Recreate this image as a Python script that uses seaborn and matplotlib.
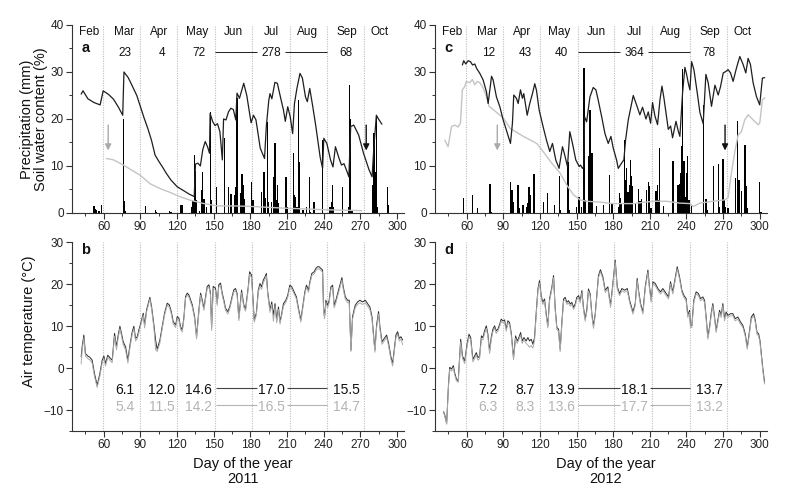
import seaborn as sns
from matplotlib import pyplot as plt
from matplotlib.ticker import MultipleLocator

# ---------------- data (x = day of the year) ----------------
# 2011 daily precipitation (mm)
rain_days_2011 = [52, 53, 54, 56, 58, 76, 77, 78, 94, 102,
                  103, 114, 115, 123, 124, 132, 133, 134, 135, 136,
                  138, 140, 141, 142, 144, 147, 148, 152, 159, 162,
                  164, 167, 168, 169, 172, 173, 174, 175, 181, 182,
                  189, 191, 192, 194, 195, 197, 199, 200, 201, 202,
                  203, 209, 210, 215, 216, 217, 218, 219, 220, 223,
                  226, 228, 229, 232, 239, 245, 246, 247, 248, 255,
                  260, 261, 262, 263, 280, 281, 282, 283, 284, 292,
                  293]
rain_mm_2011 = [1.5, 0.8, 0.6, 0.5, 1.7, 20.0, 2.5, 0.5, 1.5, 0.6,
                0.3, 0.4, 0.3, 1.8, 1.8, 1.3, 2.5, 12.4, 9.0, 2.8,
                0.5, 4.8, 8.7, 3.0, 1.3, 21.4, 2.8, 5.5, 16.0, 5.5,
                4.0, 3.8, 5.6, 24.5, 4.2, 8.4, 6.0, 3.0, 6.7, 2.8,
                4.5, 8.8, 3.1, 19.4, 2.4, 2.4, 7.7, 14.8, 2.8, 6.0,
                2.1, 7.7, 1.3, 12.7, 3.8, 3.5, 1.3, 24.0, 10.9, 0.6,
                1.3, 7.7, 0.3, 2.4, 15.5, 1.3, 2.4, 6.0, 1.3, 5.6,
                1.3, 27.2, 20.1, 0.6, 6.0, 17.0, 8.8, 20.8, 1.3, 5.6,
                1.7]

# 2011 soil water content (%), black (upper) and grey (deeper) curve
swc_days_2011 = [41.5, 43, 47, 52, 57, 59.5, 64, 68, 72, 75.5,
                 76.5, 80, 83, 87, 90, 93, 96, 99, 102, 105,
                 108, 111, 115, 120, 125, 130, 134, 135, 137, 139,
                 141, 143, 145, 146.5, 147, 149, 151, 153, 155, 157,
                 158, 160, 162, 164, 166, 168, 169, 171, 174.5, 177,
                 180.5, 182.5, 184.5, 188, 191.5, 193, 195, 196, 197.5, 200,
                 202, 204.5, 207, 208.5, 210.5, 212.5, 214.5, 216, 218, 220.5,
                 222.5, 225, 226.5, 228.5, 231, 233.5, 237, 239, 240, 242.5,
                 245.5, 247.5, 249.5, 252.5, 254.5, 256.5, 259, 260.5, 262, 264.5,
                 268.5, 272.5, 277, 279.5, 281, 283, 284.5, 287.5]
swc_top_2011 = [25.3, 26.0, 24.3, 23.5, 23.0, 26.0, 25.2, 24.2, 22.5, 20.8,
                30.0, 28.8, 27.2, 25.0, 22.6, 20.2, 18.0, 15.5, 12.3, 11.0,
                9.8, 8.5, 7.0, 5.6, 4.8, 4.0, 3.5, 10.4, 10.6, 10.0,
                13.5, 15.2, 14.0, 12.7, 21.2, 19.5, 18.6, 19.0, 17.3, 11.3,
                20.0, 19.8, 21.5, 22.3, 22.0, 19.8, 25.5, 24.4, 27.6, 25.0,
                19.2, 20.8, 19.8, 13.8, 11.6, 18.5, 24.0, 25.4, 24.3, 27.8,
                27.6, 24.7, 21.9, 19.5, 22.6, 20.5, 16.9, 23.3, 26.5, 29.7,
                28.7, 24.7, 23.7, 26.5, 22.6, 18.4, 11.9, 9.5, 15.9, 14.8,
                11.3, 9.8, 14.1, 11.6, 10.2, 10.5, 8.8, 7.7, 18.4, 18.7,
                16.6, 12.7, 9.2, 7.7, 14.1, 20.8, 20.1, 18.9]
swc_low_days_2011 = [62, 68, 76, 83, 90, 98, 106, 114, 123, 131,
                     142, 153, 168, 180, 195, 210, 222, 240, 255, 271]
swc_low_2011 = [11.6, 11.3, 10.2, 9.1, 8.0, 6.2, 5.2, 4.4, 3.4, 2.7,
                2.0, 1.5, 1.5, 1.4, 1.2, 1.0, 0.9, 0.7, 0.6, 0.5]

# 2012 daily precipitation (mm)
rain_days_2012 = [57, 65, 69, 79, 80, 96, 97, 98, 102, 103,
                  106, 109, 110, 111, 112, 115, 123, 126, 132, 136,
                  137, 143, 144, 150, 152, 154, 156, 157, 160, 161,
                  162, 163, 166, 172, 177, 179, 184, 185, 186, 187,
                  189, 190, 191, 192, 193, 194, 195, 196, 198, 201,
                  202, 203, 207, 209, 210, 211, 215, 216, 217, 218,
                  221, 229, 233, 234, 235, 236, 237, 238, 239, 240,
                  241, 242, 244, 254, 256, 257, 262, 266, 267, 270,
                  271, 272, 274, 280, 282, 283, 285, 288, 289, 290,
                  300, 301]
rain_mm_2012 = [3.1, 3.8, 1.0, 6.2, 0.3, 6.7, 4.9, 2.3, 6.0, 1.0,
                1.7, 1.3, 2.1, 5.6, 3.8, 8.2, 2.4, 4.3, 1.7, 7.9,
                0.6, 10.9, 0.6, 1.3, 3.5, 1.3, 30.8, 2.8, 12.1, 21.9,
                12.8, 12.8, 1.4, 1.8, 8.0, 2.1, 1.3, 4.2, 3.1, 2.1,
                15.5, 7.0, 9.6, 4.5, 6.0, 11.3, 7.8, 5.7, 2.1, 5.2,
                2.5, 3.0, 4.8, 6.7, 5.7, 1.0, 4.6, 6.0, 2.8, 13.8,
                1.4, 11.0, 6.0, 6.2, 8.5, 14.2, 30.6, 11.0, 3.5, 8.5,
                12.1, 2.8, 1.4, 23.0, 3.0, 0.6, 10.1, 10.4, 1.3, 11.5,
                2.8, 1.3, 1.0, 7.4, 19.5, 7.1, 4.6, 14.5, 5.7, 1.0,
                6.7, 0.3]

# 2012 soil water content (%)
swc_days_2012 = [56.4, 57.5, 59.2, 61.1, 63, 64.7, 66.6, 68, 70.7, 73.4,
                 76.1, 77.5, 80.3, 81.6, 84.3, 87.1, 89.8, 92.5, 95.8, 97.4,
                 98.5, 100.7, 102.1, 104, 105.6, 106.7, 109.5, 111.6, 113.8, 115.7,
                 117.1, 119.3, 122.5, 125.3, 128, 130.2, 132.9, 135.6, 138.4, 140.3,
                 142.5, 144.4, 146.6, 149.3, 152.1, 153.2, 154.8, 155.9, 156.5, 158.2,
                 160.9, 163.6, 165.8, 167.7, 170.5, 173.2, 175.9, 178.1, 180, 182.7,
                 184.1, 186.8, 188.7, 190.1, 192.3, 196.4, 199.1, 201.8, 204, 206.8,
                 208.7, 210.6, 212.2, 214.1, 216.3, 218.3, 219.9, 221.5, 225.1, 227,
                 228.6, 231.4, 233.3, 234.6, 236.8, 238.7, 240.1, 241.4, 242.8, 244.2,
                 246.1, 248.8, 251, 253.7, 255.9, 257.8, 260.5, 263.3, 266, 267.9,
                 270.1, 272.2, 274.1, 276.1, 278.2, 281, 283.7, 286.4, 288.6, 290.5,
                 292.4, 294.6, 297.3, 300, 302.2, 304.1]
swc_top_2012 = [31.5, 32.4, 31.7, 32.4, 32.2, 31.5, 31.7, 30.8, 29.7, 28.3,
                25.8, 23.3, 29.1, 28.3, 24.7, 22.6, 19.8, 17.6, 14.8, 19.1,
                25.1, 24.4, 23.3, 26.2, 24.4, 25.4, 20.8, 23.3, 25.4, 27.5,
                26.1, 21.9, 18.4, 15.5, 13.1, 14.8, 11.3, 9.5, 14.1, 12.3,
                9.9, 17.3, 14.8, 11.3, 9.9, 10.2, 9.5, 9.9, 20.5, 19.4,
                24.7, 26.7, 26.2, 24.0, 20.5, 16.9, 14.8, 16.3, 13.8, 11.3,
                9.5, 10.6, 11.3, 15.5, 19.8, 25.0, 23.0, 20.9, 22.5, 20.0,
                21.5, 19.1, 23.5, 20.7, 18.8, 24.1, 27.0, 24.5, 17.8, 18.5,
                16.0, 19.5, 17.4, 16.3, 25.6, 31.0, 29.5, 27.7, 26.2, 32.2,
                30.5, 25.6, 21.4, 19.0, 29.5, 27.7, 22.7, 27.2, 25.1, 26.9,
                29.8, 30.1, 30.5, 29.8, 28.0, 30.9, 33.3, 31.6, 29.8, 32.9,
                31.6, 27.7, 24.8, 23.0, 28.7, 28.8]
swc_low_days_2012 = [42, 44.7, 47.5, 50.2, 52.9, 54.8, 56.4, 58.3, 59.7, 62.4,
                     64.6, 66.6, 68.5, 70.7, 73.4, 76.1, 78.3, 84, 90, 95.5,
                     106.4, 117.3, 122.8, 129.6, 136.4, 141.8, 147.3, 152.8, 158.2, 169.1,
                     180, 196.4, 212.7, 223.6, 234.6, 242.8, 245.5, 251, 261.8, 271.4,
                     274.1, 276.8, 279.6, 282.3, 285, 287.7, 290.5, 294.6, 298.7, 300,
                     302.2, 304.1]
swc_low_2012 = [15.5, 14.1, 18.4, 18.7, 18.3, 19.1, 26.2, 26.9, 28.0, 27.7,
                28.4, 27.3, 28.0, 27.7, 26.6, 24.8, 22.7, 21.5, 20.2, 18.0,
                16.3, 14.8, 13.0, 10.6, 8.5, 6.0, 3.9, 2.8, 2.5, 2.3,
                2.0, 2.0, 2.5, 2.5, 2.1, 2.0, 1.4, 2.1, 2.5, 2.8,
                3.2, 8.5, 13.0, 16.6, 17.3, 19.8, 20.9, 19.8, 18.8, 19.1,
                24.1, 24.5]

# 2011 air temperature (degC), black and grey curve
temp_days_2011 = [41.5, 42.3, 43.7, 45.0, 46.9, 48.6, 50.5, 52.4, 54.6, 56.8,
                  58.7, 60.1, 61.4, 63.3, 65.5, 66.9, 68.8, 70.4, 71.8, 73.2,
                  74.2, 75.9, 77.8, 79.7, 81.4, 83.3, 84.6, 86.0, 87.4, 88.7,
                  90.6, 92.3, 93.4, 95.0, 96.4, 97.7, 99.1, 101.0, 102.4, 103.7,
                  105.9, 107.8, 109.7, 111.9, 113.6, 115.2, 116.8, 118.8, 120.1, 121.5,
                  122.8, 124.2, 125.6, 126.9, 128.3, 129.6, 131.0, 132.4, 134.3, 135.9,
                  137.8, 139.2, 140.5, 141.9, 143.3, 144.6, 146.0, 147.3, 148.2, 149.5,
                  151.4, 152.8, 154.1, 155.5, 156.9, 158.2, 159.6, 161.5, 163.1, 165.0,
                  166.4, 167.8, 169.1, 170.5, 172.7, 174.6, 176.0, 178.2, 179.3, 180.9,
                  182.0, 183.1, 184.8, 186.4, 187.8, 189.1, 190.5, 191.9, 193.0, 194.1,
                  196.0, 197.4, 198.8, 200.1, 201.5, 202.9, 204.2, 205.6, 207.0, 208.9,
                  210.5, 212.2, 213.8, 215.7, 217.6, 219.3, 221.2, 222.5, 224.5, 225.8,
                  227.5, 228.6, 230.2, 232.1, 233.5, 234.8, 236.2, 237.6, 239.0, 239.8,
                  240.6, 241.7, 243.1, 244.4, 245.8, 247.2, 248.5, 249.9, 251.3, 253.2,
                  254.8, 255.9, 257.6, 259.5, 260.8, 262.2, 263.5, 265.7, 267.6, 269.5,
                  271.7, 273.9, 275.8, 277.7, 279.4, 281.8, 283.2, 284.8, 285.9, 287.6,
                  289.5, 291.4, 293.0, 294.9, 296.3, 297.6, 299.0, 300.4, 301.7, 303.1,
                  304.5]
temp_a_2011 = [2.7, 5.1, 7.9, 3.5, 2.9, 2.6, 1.9, -1.3, -4.1, -1.3,
               1.9, 2.9, 1.1, 3.1, 2.3, 1.9, 8.3, 5.1, 7.9, 10.0,
               8.7, 6.3, 5.1, 1.9, 5.5, 8.7, 10.0, 7.1, 7.5, 9.1,
               11.1, 13.1, 10.3, 13.9, 15.5, 16.9, 14.7, 10.3, 6.7, 4.5,
               6.7, 9.9, 13.1, 15.5, 15.1, 13.5, 11.1, 10.3, 12.3, 11.9,
               9.9, 9.1, 12.3, 17.1, 17.9, 17.5, 16.3, 15.1, 12.3, 7.5,
               13.9, 17.9, 16.3, 14.3, 17.1, 19.5, 19.9, 17.9, 9.5, 19.5,
               19.1, 15.5, 19.9, 20.3, 17.9, 16.3, 14.3, 13.5, 14.7, 17.1,
               18.7, 19.0, 17.8, 11.9, 18.6, 15.0, 14.2, 19.4, 23.0, 22.2,
               17.0, 11.5, 13.1, 18.6, 20.2, 19.4, 21.0, 21.8, 22.6, 18.2,
               13.9, 15.8, 12.7, 15.4, 11.5, 14.6, 11.1, 13.1, 15.4, 16.2,
               17.4, 19.8, 19.4, 18.2, 17.0, 14.2, 11.5, 14.2, 18.2, 19.8,
               18.6, 20.6, 22.6, 23.0, 23.8, 24.2, 24.2, 23.8, 23.4, 14.2,
               12.3, 16.2, 15.0, 16.2, 19.4, 19.8, 15.0, 16.2, 17.8, 19.8,
               21.6, 19.4, 17.0, 16.2, 16.2, 4.3, 12.3, 15.0, 15.8, 16.2,
               15.8, 16.2, 15.4, 14.6, 12.3, 4.3, 10.3, 13.5, 9.9, 6.3,
               7.1, 7.9, 5.9, 2.7, 1.1, 4.3, 7.9, 8.7, 7.1, 7.5,
               6.7]
temp_b_2011 = [1.0, 4.3, 7.2, 2.9, 2.3, 2.0, 1.2, -2.0, -4.6, -1.9,
               1.3, 2.4, 0.5, 2.6, 1.7, 1.3, 7.6, 4.4, 7.3, 9.4,
               8.1, 5.6, 4.4, 1.2, 4.9, 8.1, 9.4, 6.5, 7.0, 8.5,
               10.6, 12.6, 9.6, 13.4, 15.0, 16.5, 14.1, 9.6, 4.4, 4.0,
               6.0, 9.4, 12.6, 15.0, 14.6, 13.0, 10.5, 9.7, 11.8, 11.4,
               9.3, 8.6, 11.8, 16.7, 17.4, 17.0, 15.8, 14.6, 11.8, 7.0,
               13.3, 17.4, 15.8, 13.8, 16.6, 19.0, 19.4, 17.4, 9.0, 19.0,
               18.6, 15.0, 19.4, 19.8, 17.4, 15.8, 13.8, 12.9, 14.2, 16.6,
               18.2, 18.5, 17.3, 11.3, 18.0, 14.5, 13.6, 18.9, 22.4, 21.6,
               16.5, 11.0, 12.6, 18.1, 19.6, 18.8, 20.4, 21.2, 22.0, 17.6,
               13.3, 15.2, 11.2, 14.8, 10.8, 14.0, 10.5, 12.6, 14.8, 15.7,
               16.9, 19.3, 18.9, 17.7, 16.5, 13.7, 11.0, 13.7, 17.7, 19.3,
               18.1, 20.1, 22.1, 22.5, 23.3, 23.7, 23.7, 23.3, 22.9, 13.6,
               11.8, 15.7, 14.4, 15.6, 18.9, 19.2, 14.4, 15.6, 17.2, 19.2,
               21.0, 18.8, 16.4, 15.6, 15.6, 4.0, 11.7, 14.4, 15.2, 15.6,
               15.2, 15.6, 14.8, 14.0, 11.7, 3.8, 9.7, 12.9, 9.3, 5.7,
               6.5, 7.3, 5.3, 2.1, 0.5, 3.7, 7.3, 8.1, 6.5, 6.9,
               5.6]

# 2012 air temperature (degC)
temp_days_2012 = [41, 42, 43.5, 45, 46, 47.5, 49, 50, 51.5, 53,
                  55, 56.5, 58.3, 60.2, 61.8, 63.2, 65, 66.4, 67.8, 69.2,
                  70.5, 72, 73.2, 74.6, 76, 77.3, 78.7, 80, 81.4, 82.8,
                  84.1, 85.5, 87, 88.2, 89.6, 91, 92.3, 93.7, 95, 96.4,
                  98.3, 100, 101.3, 102.7, 104.1, 105.4, 106.8, 108.7, 110.1, 111.4,
                  112.8, 114.2, 115.5, 116.9, 118.3, 119.6, 121, 122.3, 123.7, 125.1,
                  126.4, 127.8, 129.7, 131.1, 132.4, 133.8, 135.2, 136.5, 137.9, 139.3,
                  140.6, 142, 143.4, 144.7, 146.1, 147.5, 148.8, 150.2, 151.6, 152.9,
                  154.3, 155.6, 157, 158.4, 159.7, 161.1, 162.5, 163.8, 165.2, 166.6,
                  167.9, 169.5, 171.5, 173.4, 175.6, 177.8, 179.7, 181.6, 183.3, 185.2,
                  187.1, 189.3, 191.5, 193.4, 196.1, 198, 199.6, 200.7, 202.4, 204.3,
                  206.2, 208.4, 209.7, 211.1, 212.5, 214.4, 216.6, 218.7, 220.6, 223.4,
                  225.3, 226.9, 228.8, 230.7, 232.4, 234.3, 236.2, 237.8, 239.7, 241.1,
                  242.5, 243.3, 244.4, 246, 247.9, 249.8, 251.5, 253.4, 254.8, 256.1,
                  257.5, 258.9, 260.2, 261.6, 263, 264.3, 265.7, 267.1, 268.4, 269.8,
                  271.2, 272.5, 273.9, 276.1, 278, 279.9, 282.1, 284.3, 286.2, 288.1,
                  289.8, 291.7, 293.1, 295, 296.4, 297.7, 299.1, 300.2, 301.3, 302.6,
                  304]
temp_a_2012 = [-10.4, -11.2, -13.2, -4.0, 0.2, -0.2, 0.6, -1.0, -2.6, -3.0,
               6.9, 2.9, 1.7, 5.7, 8.1, 7.3, 2.1, 2.9, 3.7, 2.5,
               2.9, 7.7, 7.3, 8.9, 10.1, 8.1, 4.1, 7.3, 9.3, 10.1,
               8.9, 9.3, 10.5, 11.7, 11.3, 11.5, 9.3, 11.3, 10.9, 8.5,
               2.5, 7.7, 6.5, 7.3, 8.5, 6.5, 7.3, 6.5, 7.3, 6.5,
               6.9, 5.7, 7.3, 13.3, 18.9, 20.9, 17.3, 15.7, 16.5, 12.9,
               10.1, 16.5, 19.3, 22.1, 14.5, 9.7, 9.3, 4.5, 10.9, 16.5,
               16.9, 15.7, 16.1, 15.3, 15.7, 14.5, 15.3, 16.9, 17.3, 16.1,
               18.5, 14.5, 11.7, 14.1, 18.9, 17.7, 12.9, 10.1, 12.9, 17.7,
               22.1, 23.5, 21.8, 18.6, 19.4, 15.0, 20.2, 25.8, 19.4, 17.8,
               19.0, 18.6, 19.0, 16.2, 13.4, 15.4, 21.4, 18.6, 15.4, 13.4,
               19.4, 23.4, 19.4, 16.2, 20.6, 20.2, 19.0, 18.2, 19.0, 17.8,
               17.0, 20.6, 18.2, 21.4, 24.2, 21.8, 18.6, 17.4, 16.6, 12.6,
               13.8, 10.2, 10.2, 16.2, 18.2, 17.8, 16.6, 17.0, 16.2, 12.2,
               7.4, 9.8, 13.0, 15.4, 12.2, 9.0, 11.4, 13.8, 12.6, 15.4,
               11.8, 13.4, 12.6, 13.0, 13.0, 11.8, 12.2, 11.0, 10.2, 8.2,
               5.0, 9.0, 12.2, 13.0, 11.4, 8.6, 8.2, 6.6, 3.4, -0.2,
               -3.4]
temp_b_2012 = [-10.6, -11.5, -13.4, -4.4, -0.3, -0.7, 0.1, -1.5, -3.0, -3.4,
               6.2, 2.3, 1.1, 5.1, 7.5, 6.7, 1.5, 2.3, 3.1, 1.9,
               2.3, 7.1, 6.7, 8.3, 9.5, 7.5, 3.5, 6.7, 8.7, 9.6,
               8.3, 8.8, 10.0, 11.2, 10.8, 11.0, 8.8, 10.8, 10.4, 8.0,
               2.0, 7.1, 5.9, 6.8, 7.9, 5.9, 6.7, 5.9, 5.5, 5.0,
               5.4, 4.8, 6.5, 12.8, 18.4, 20.3, 16.8, 15.2, 16.0, 12.4,
               9.6, 16.0, 18.8, 21.6, 14.0, 9.2, 8.8, 3.9, 10.4, 16.0,
               16.4, 15.2, 15.6, 14.8, 15.2, 14.0, 14.8, 16.4, 16.8, 15.6,
               18.0, 14.0, 11.2, 13.6, 18.4, 17.2, 12.4, 9.5, 12.4, 17.2,
               21.6, 23.0, 21.3, 18.1, 18.9, 14.5, 19.7, 25.3, 18.9, 17.3,
               18.5, 18.1, 18.5, 15.7, 12.9, 14.9, 20.9, 18.1, 14.9, 12.9,
               18.9, 22.9, 18.9, 15.7, 20.1, 19.7, 18.5, 17.7, 18.5, 17.3,
               16.5, 20.1, 17.7, 20.9, 23.7, 21.3, 18.1, 16.9, 16.1, 12.1,
               13.3, 9.7, 9.7, 15.7, 17.7, 17.3, 16.1, 16.5, 15.7, 11.7,
               6.9, 9.3, 12.5, 14.9, 11.7, 8.5, 10.9, 13.3, 12.1, 14.9,
               11.3, 12.9, 12.1, 12.5, 12.5, 11.3, 11.7, 10.5, 9.7, 7.7,
               4.5, 8.5, 11.7, 12.5, 10.9, 8.1, 7.7, 6.1, 2.9, -0.7,
               -3.8]

# labels
months = ['Feb', 'Mar', 'Apr', 'May', 'Jun', 'Jul', 'Aug', 'Sep', 'Oct']
month_ends = [59, 90, 120, 151, 181, 212, 243, 273]
rain_totals_2011 = ['23', '4', '72', '278', '68']
rain_totals_2012 = ['12', '43', '40', '364', '78']
tmean_a_2011 = ['6.1', '12.0', '14.6', '17.0', '15.5']
tmean_b_2011 = ['5.4', '11.5', '14.2', '16.5', '14.7']
tmean_a_2012 = ['7.2', '8.7', '13.9', '18.1', '13.7']
tmean_b_2012 = ['6.3', '8.3', '13.6', '17.7', '13.2']

# ---------------- drawing ----------------
sns.set_theme(style='ticks')
plt.rcParams['font.family'] = ['Liberation Sans', 'DejaVu Sans']

BLACK = '#1e1e1e'
GREY = '#c4c4c4'
GREY_TXT = '#b4b4b4'
month_mid = [48, 77, 105, 136, 166, 197, 227, 259, 286]
sum_x = [77.5, 107.5, 137.5, 197, 258.5]


def style_axis(ax, ylim, yticks):
    ax.set_xlim(34, 306)
    ax.set_ylim(*ylim)
    ax.set_xticks(range(60, 301, 30))
    ax.xaxis.set_minor_locator(MultipleLocator(15))
    ax.set_yticks(yticks)
    ax.yaxis.set_minor_locator(MultipleLocator(5))
    ax.tick_params(which='major', direction='out', length=4, width=0.8,
                   labelsize=8.5, colors='#333', labelcolor='#222', pad=2)
    ax.tick_params(which='minor', direction='out', length=2.5, width=0.7, colors='#333')
    for s in ['top', 'right']:
        ax.spines[s].set_visible(False)
    for s in ['left', 'bottom']:
        ax.spines[s].set_color('#333')
        ax.spines[s].set_linewidth(0.8)
    for d in month_ends:
        ax.axvline(d, color='#bdbdbd', lw=0.8, ls=(0, (1, 1.2)), zorder=0)
    ax.set_xlabel('')
    ax.set_ylabel('')


def soil_panel(ax, rain_d, rain_v, top_d, top_v, low_d, low_v, totals, letter, arrows):
    sns.barplot(x=rain_d, y=rain_v, native_scale=True, orient='x', color='black',
                width=1.0, linewidth=0, errorbar=None, saturation=1, ax=ax)
    sns.lineplot(x=low_d, y=low_v, estimator=None, sort=False, color=GREY, lw=1.0, ax=ax)
    sns.lineplot(x=top_d, y=top_v, estimator=None, sort=False, color=BLACK, lw=0.9, ax=ax)
    style_axis(ax, (0, 40), range(0, 41, 10))
    for name, x in zip(months, month_mid):
        ax.text(x, 38.5, name, ha='center', va='center', fontsize=8.5, color='#111')
    for txt, x in zip(totals, sum_x):
        ax.text(x, 34.0, txt, ha='center', va='center', fontsize=8.5, color='#111')
    ax.hlines([34.3, 34.3], [151, 208.5], [185.5, 243], color=BLACK, lw=0.7)
    ax.text(45, 35.2, letter, ha='center', va='center', fontsize=10.5,
            fontweight='bold', color='#111')
    for x, col in arrows:
        ax.annotate('', xy=(x, 13.3), xytext=(x, 18.7),
                    arrowprops=dict(arrowstyle='-|>', color=col, lw=1.0,
                                    mutation_scale=9, shrinkA=0, shrinkB=0))


def temp_panel(ax, days, ta, tb, means_a, means_b, letter):
    sns.lineplot(x=days, y=ta, estimator=None, sort=False, color='#2a2a2a', lw=0.7, ax=ax)
    sns.lineplot(x=days, y=tb, estimator=None, sort=False, color='#ababab', lw=0.7, ax=ax)
    style_axis(ax, (-15, 30), [-10, 0, 10, 20, 30])
    for txt, x in zip(means_a, sum_x):
        ax.text(x, -5.1, txt, ha='center', va='center', fontsize=10, color='#111')
    for txt, x in zip(means_b, sum_x):
        ax.text(x, -9.2, txt, ha='center', va='center', fontsize=10, color=GREY_TXT)
    ax.hlines([-4.85, -4.85], [151.5, 210], [185.5, 243], color='#444', lw=0.8)
    ax.hlines([-8.9, -8.9], [151.5, 210], [185.5, 243], color=GREY_TXT, lw=0.8)
    ax.text(45.5, 28.3, letter, ha='center', va='center', fontsize=10.5,
            fontweight='bold', color='#111')


fig = plt.figure(figsize=(8, 4.98), dpi=100)
ax_a = fig.add_axes([0.0900, 0.5723, 0.4156, 0.3775])
ax_c = fig.add_axes([0.5438, 0.5723, 0.4150, 0.3775])
ax_b = fig.add_axes([0.0900, 0.1345, 0.4156, 0.3787])
ax_d = fig.add_axes([0.5438, 0.1345, 0.4150, 0.3787])

soil_panel(ax_a, rain_days_2011, rain_mm_2011, swc_days_2011, swc_top_2011,
           swc_low_days_2011, swc_low_2011, rain_totals_2011, 'a',
           [(63.6, '#aaaaaa'), (274.7, '#111111')])
soil_panel(ax_c, rain_days_2012, rain_mm_2012, swc_days_2012, swc_top_2012,
           swc_low_days_2012, swc_low_2012, rain_totals_2012, 'c',
           [(85.0, '#aaaaaa'), (271.6, '#111111')])
temp_panel(ax_b, temp_days_2011, temp_a_2011, temp_b_2011, tmean_a_2011, tmean_b_2011, 'b')
temp_panel(ax_d, temp_days_2012, temp_a_2012, temp_b_2012, tmean_a_2012, tmean_b_2012, 'd')

ax_a.set_ylabel('Precipitation (mm)\nSoil water content (%)', fontsize=10.5,
                color='#111', linespacing=1.0)
ax_a.yaxis.set_label_coords(-0.072, 0.5)
ax_b.set_ylabel('Air temperature (°C)', fontsize=10.5, color='#111')
ax_b.yaxis.set_label_coords(-0.108, 0.58)
for ax, year in [(ax_b, '2011'), (ax_d, '2012')]:
    ax.set_xlabel('Day of the year\n' + year, fontsize=10.5, color='#111', linespacing=1.05)
    ax.xaxis.set_label_coords(0.515, -0.14)

fig.savefig('out.png', dpi=100, facecolor='white')
